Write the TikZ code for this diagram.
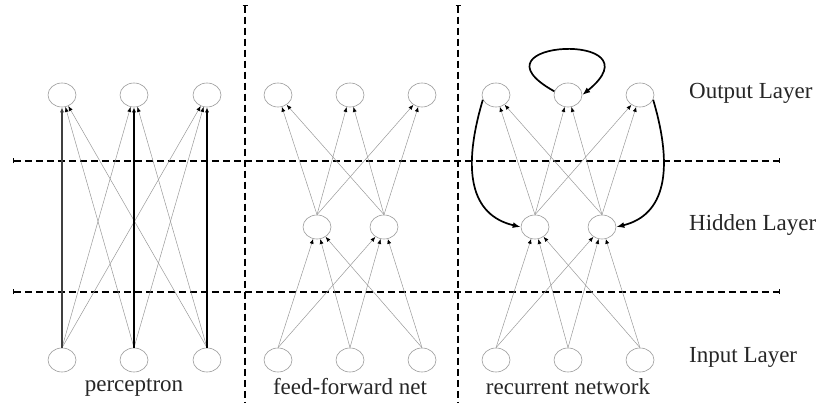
\documentclass[tikz,border=0pt]{standalone}
\usepackage{fontspec}
\setmainfont{Liberation Serif}
\usetikzlibrary{arrows.meta,shapes.geometric}

\begin{document}
\begin{tikzpicture}[x=1pt,y=-1pt,
    unit/.style={draw=gray!80, line width=0.6pt, ellipse, minimum width=28pt, minimum height=24pt, inner sep=0pt},
    link/.style={draw=gray!80, line width=0.5pt, -{Latex[length=5pt,width=4pt,color=black]}},
    strong/.style={draw=black, line width=1.8pt, -{Latex[length=5pt,width=4pt]}},
    loopback/.style={draw=black, line width=1.7pt, -{Latex[length=8pt,width=6pt]}},
    divider/.style={black, line width=1.6pt, dash pattern=on 7pt off 4pt},
    txt/.style={font=\fontsize{23}{26}\selectfont, text=black!85, inner sep=0pt}]
    \useasboundingbox (0,0) rectangle (822,403);

    % layer borders
    \draw[divider, {Bar[width=5pt,line width=1pt]}-{Bar[width=5pt,line width=1pt]}] (13,161) -- (780,161);
    \draw[divider, {Bar[width=5pt,line width=1pt]}-{Bar[width=5pt,line width=1pt]}] (13,292) -- (780,292);
    \draw[divider, {Bar[width=5pt,line width=1pt]}-] (245,5) -- (245,403);
    \draw[divider, {Bar[width=5pt,line width=1pt]}-] (458,5) -- (458,403);

    % perceptron
    \foreach \x [count=\i] in {62,134,207} {
        \node[unit] (po\i) at (\x,95) {};
        \node[unit] (pi\i) at (\x,360) {};
    }
    \foreach \i/\j in {1/2,1/3,2/1,2/3,3/1,3/2}
        \draw[link] (pi\i.north) -- (po\j);
    \draw[strong, draw=black!75, line width=1.1pt] (pi1.north) -- (po1);
    \draw[strong] (pi2.north) -- (po2);
    \draw[strong] (pi3.north) -- (po3);

    % feed-forward net and recurrent network
    \foreach \n/\s in {f/0,r/218} {
        \foreach \x [count=\i] in {278,350,422} {
            \node[unit] (\n o\i) at (\x+\s,95) {};
            \node[unit] (\n i\i) at (\x+\s,360) {};
        }
        \foreach \x [count=\i] in {317,384}
            \node[unit] (\n h\i) at (\x+\s,227) {};
        \foreach \h in {1,2} {
            \foreach \o in {1,2,3} \draw[link] (\n h\h.north) -- (\n o\o);
            \foreach \i in {1,2,3} \draw[link] (\n i\i.north) -- (\n h\h);
        }
    }
    \draw[loopback] (ro2.165) .. controls (462,40) and (662,30) .. (ro2.east);
    \draw[loopback] (ro1.200) .. controls (462,170) and (470,215) .. (rh1.west);
    \draw[loopback] (ro3.-20) .. controls (674,170) and (665,215) .. (rh2.east);

    % labels
    \node[txt, anchor=west] (lout) at (689,93) {Output Layer};
    \node[txt, anchor=west] (lhid) at (689,225) {Hidden Layer};
    \node[txt, anchor=west] (lin) at (689,357) {Input Layer};
    \node[txt] (tperc) at (134,387) {perceptron};
    \node[txt] (tff) at (350,387) {feed-forward net};
    \node[txt] (trec) at (568,387) {recurrent network};
\end{tikzpicture}
\end{document}
